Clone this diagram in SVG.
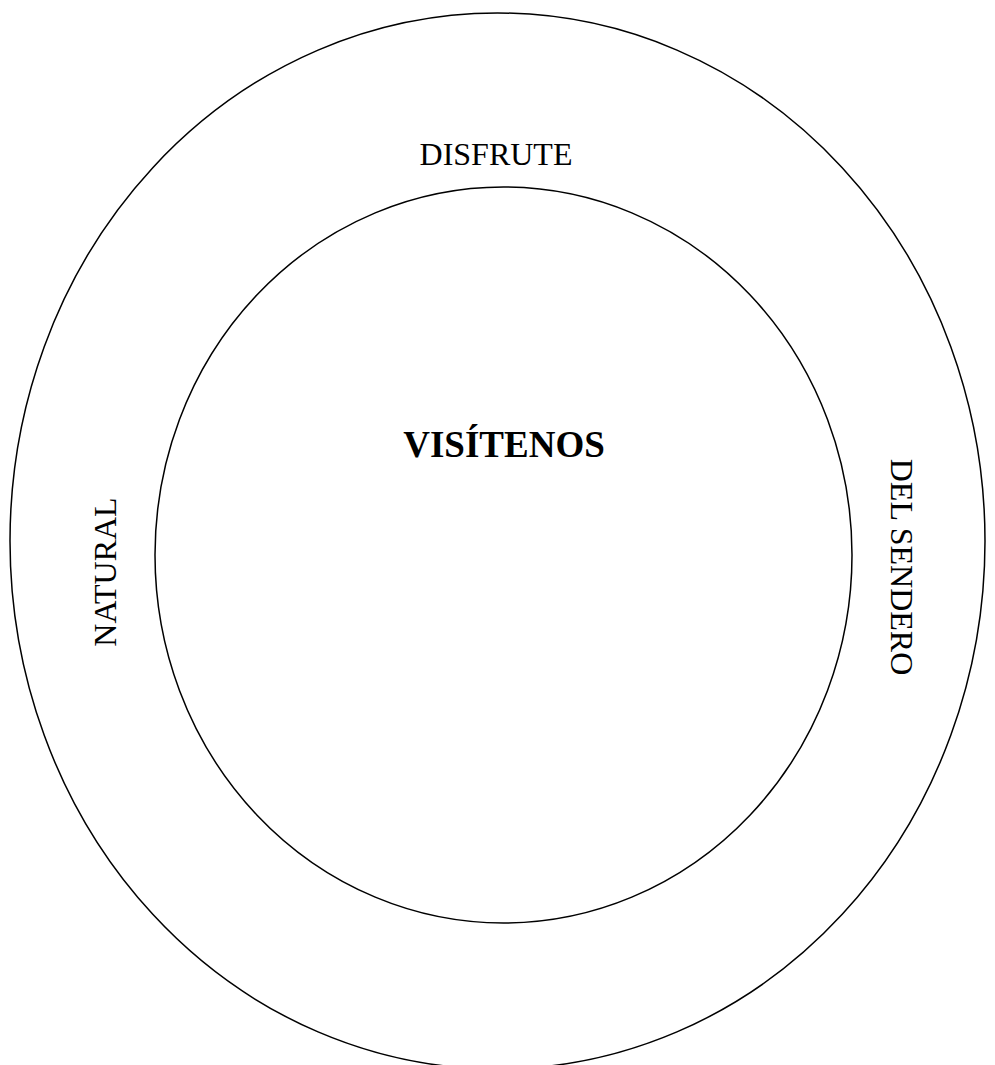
<svg xmlns="http://www.w3.org/2000/svg" width="995" height="1065" viewBox="0 0 995 1065">
<style>
.ring{fill:none;stroke:#000;stroke-width:1.5}
.t{font-family:"Liberation Serif",serif;font-size:32px;fill:#000;text-anchor:middle}
.b{font-weight:bold;font-size:37px}
</style>
<rect width="995" height="1065" fill="#fff"/>
<g id="outer"><ellipse class="ring" cx="497.5" cy="541" rx="487.5" ry="528"/></g>
<g id="inner"><ellipse class="ring" cx="503.5" cy="555" rx="348.5" ry="368"/></g>
<g id="disfrute"><text class="t" x="496" y="165">DISFRUTE</text></g>
<g id="visitenos"><text class="t b" x="504" y="457">VISÍTENOS</text></g>
<g id="natural"><text class="t" transform="translate(116,572) rotate(-90)">NATURAL</text></g>
<g id="sendero"><text class="t" transform="translate(891,567) rotate(90)">DEL SENDERO</text></g>
<g id="connectors"/>
</svg>
